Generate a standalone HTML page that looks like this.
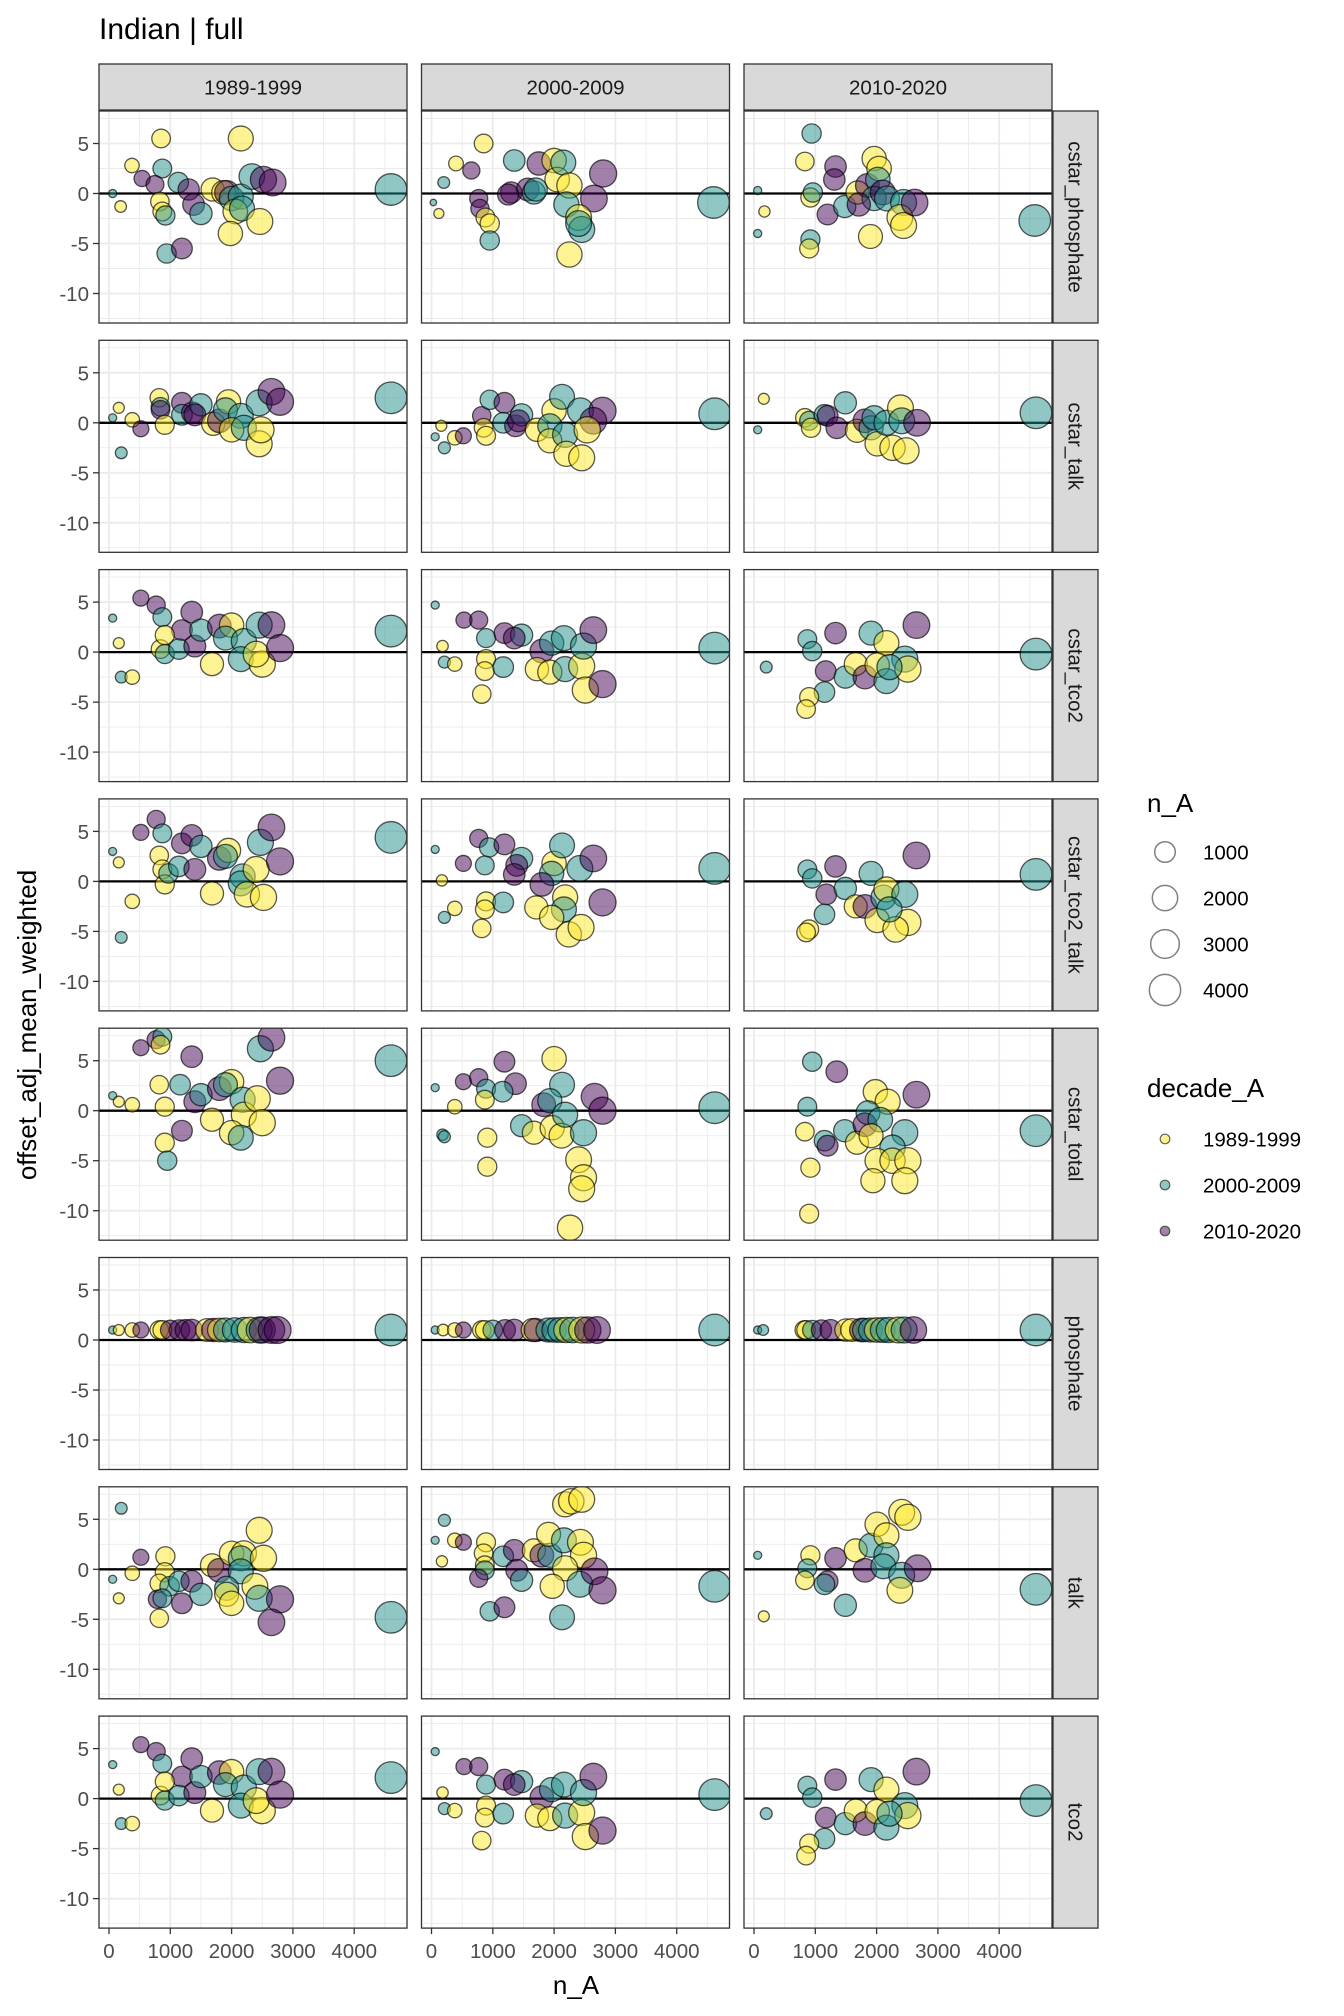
<!DOCTYPE html>
<html><head><meta charset="utf-8"><style>
html,body{margin:0;padding:0;background:#fff}
svg{display:block;font-family:"Liberation Sans",Arial,sans-serif}
</style></head><body>
<svg id="chart" xmlns="http://www.w3.org/2000/svg" width="1344" height="2016" viewBox="0 0 1344 2016">
<text x="99" y="39" font-size="30" fill="#000">Indian | full</text>
<text x="576" y="1994" font-size="26" fill="#000" text-anchor="middle">n_A</text>
<text transform="translate(36,1025) rotate(-90)" font-size="26" fill="#000" text-anchor="middle">offset_adj_mean_weighted</text>
<g id="panels"></g>
<g id="legend"></g>
</svg>
<script>
const rowNames = ["cstar_phosphate","cstar_talk","cstar_tco2","cstar_tco2_talk","cstar_total","phosphate","talk","tco2"];
const colNames = ["1989-1999","2000-2009","2010-2020"];
const decadeColors = ["#FDE725","#21908C","#440154"];
const yTicks = [5,0,-5,-10];
const xTicks = [0,1000,2000,3000,4000];
const sizeBreaks = [1000,2000,3000,4000];

// each point: [n_A, offset, decadeIndex]
const cstar_phosphate_1 = [[850,5.5,0],[2150,5.5,0],[375,2.8,0],[540,1.5,2],[870,2.5,1],[750,0.9,2],[60,0,1],[190,-1.3,0],[830,-0.8,0],[870,-1.8,0],[920,-2.2,1],[1130,1.1,1],[1300,0.4,2],[1380,-1.1,2],[1500,-2,1],[1690,0.4,0],[1870,0.1,0],[1920,0.1,2],[2000,-0.5,1],[2150,-0.3,1],[2060,-1.8,0],[2170,-1.5,1],[1980,-4,0],[2460,-2.8,0],[2330,1.7,1],[2520,1.4,2],[2670,1.1,2],[940,-6,1],[1190,-5.5,2],[4600,0.4,1]];
const cstar_phosphate_2 = [[850,5,0],[1350,3.3,1],[400,3,0],[650,2.3,2],[200,1.1,1],[30,-0.9,1],[120,-2,0],[770,-0.5,2],[790,-1.5,2],[880,-2.4,0],[950,-3,0],[950,-4.7,1],[1300,0.1,2],[1750,3,2],[2000,3.3,0],[2050,1.4,0],[2150,3.1,1],[1570,0.4,2],[1250,-0.1,2],[1670,0.1,1],[2250,0.8,0],[2800,2,2],[2650,-0.5,2],[2200,-1.1,1],[2400,-2.4,0],[2450,-3.6,1],[2250,-6.1,0],[2400,-3,1],[4600,-0.9,1],[1700,0.4,1]];
const cstar_phosphate_3 = [[940,6,1],[830,3.2,0],[1330,2.7,2],[60,0.3,1],[170,-1.8,0],[60,-4,1],[920,-4.6,1],[900,-5.5,0],[920,-0.4,0],[960,0.1,1],[1310,1.4,2],[1200,-2.1,2],[1480,-1.3,1],[1690,0.1,0],[1850,0.8,2],[1960,3.5,0],[2040,2.5,0],[2020,1.4,1],[1960,-0.5,1],[1900,-4.3,0],[2100,0.1,2],[2170,-0.5,1],[2440,-0.9,1],[2380,-2.4,0],[2440,-3.2,0],[2620,-0.9,2],[4580,-2.7,1],[1710,-1.1,2]];
const cstar_talk_1 = [[60,0.5,1],[160,1.5,0],[380,0.3,0],[520,-0.6,2],[200,-3,1],[820,2.5,0],[840,1.6,1],[840,1.3,2],[910,-0.2,0],[1190,2,2],[1190,0.8,1],[1360,1,2],[1500,1.8,1],[1400,0.8,2],[1700,-0.1,0],[1800,0.2,2],[1950,2.1,0],[1900,1.3,1],[2150,0.7,1],[2000,-0.7,0],[2200,-0.5,1],[2450,-2.1,0],[2480,-0.7,0],[2450,2,1],[2650,3.1,2],[2790,2.1,2],[4600,2.5,1]];
const cstar_talk_2 = [[60,-1.4,1],[160,-0.3,0],[210,-2.5,1],[380,-1.5,0],[520,-1.3,2],[820,0.7,2],[850,-0.5,0],[890,-1.3,0],[950,2.3,1],[1190,2,2],[1170,0,1],[1370,-0.3,2],[1470,0.8,1],[1420,0.2,2],[1720,-0.7,0],[2000,1.2,0],[2130,2.6,1],[1930,-0.3,1],[1930,-1.8,0],[2180,-1.2,1],[2200,-3.1,0],[2450,-3.5,0],[2430,1.2,1],[2790,1.2,2],[2640,0.2,2],[2540,-0.7,0],[4620,0.9,1]];
const cstar_talk_3 = [[160,2.4,0],[60,-0.7,1],[830,0.5,0],[900,0.2,1],[930,-0.5,0],[1150,0.8,1],[1200,0.7,2],[1350,-0.5,2],[1490,2,1],[1680,-0.8,0],[1810,0.2,2],[1910,-0.5,1],[2010,-2.1,0],[1960,0.5,1],[2160,0,1],[2390,1.5,0],[2410,0.2,1],[2260,-2.5,0],[2480,-2.8,0],[2660,0,2],[4600,1,1]];
const cstar_tco2_1 = [[60,3.4,1],[160,0.9,0],[200,-2.5,1],[380,-2.5,0],[520,5.4,2],[770,4.7,2],[870,3.5,1],[1350,4,2],[1190,2.2,2],[840,0.3,0],[910,1.7,0],[910,-0.2,1],[1140,0.3,1],[1400,0.6,2],[1500,2.2,1],[1680,-1.2,0],[1800,2.6,2],[2000,2.7,0],[1900,1.4,1],[2200,1.1,1],[2150,-0.7,1],[2500,-1.2,0],[2400,-0.2,0],[2450,2.7,1],[2650,2.7,2],[2790,0.4,2],[4600,2.1,1]];
const cstar_tco2_2 = [[60,4.7,1],[180,0.6,0],[210,-1,1],[380,-1.2,0],[530,3.2,2],[770,3.2,2],[890,1.4,1],[890,-0.7,0],[870,-1.9,0],[820,-4.2,0],[1170,-1.5,1],[1190,1.9,2],[1470,1.7,1],[1350,1.4,2],[1800,0.1,2],[1720,-1.7,0],[1930,-2,0],[1960,0.9,1],[2160,1.4,1],[2180,-1.7,1],[2450,-1.4,0],[2510,-3.8,0],[2480,0.6,1],[2640,2.2,2],[2790,-3.2,2],[4620,0.4,1]];
const cstar_tco2_3 = [[200,-1.5,1],[870,1.3,1],[950,0.1,1],[1330,1.9,2],[1170,-1.9,2],[1150,-4,1],[900,-4.5,0],[850,-5.7,0],[1490,-2.5,1],[1910,1.9,1],[2160,0.9,0],[1660,-1.2,0],[1810,-2.5,2],[2010,-1.3,0],[2160,-2.9,1],[2460,-0.7,1],[2510,-1.7,0],[2210,-1.5,1],[2650,2.7,2],[4600,-0.2,1]];
const cstar_tco2_talk_1 = [[60,3,1],[160,1.9,0],[380,-2,0],[200,-5.6,1],[520,4.9,2],[770,6.2,2],[870,4.8,1],[820,2.6,0],[870,1.2,0],[910,-0.3,0],[970,0.8,1],[1140,1.5,1],[1190,3.8,2],[1350,4.6,2],[1500,3.5,1],[1400,1.2,2],[1680,-1.2,0],[1800,2.3,2],[1950,3.1,0],[1900,2.5,1],[2180,0.5,1],[2150,-0.2,1],[2250,-1.3,0],[2520,-1.6,0],[2400,1.2,0],[2470,3.9,1],[2650,5.4,2],[2790,2,2],[4600,4.4,1]];
const cstar_tco2_talk_2 = [[60,3.2,1],[170,0.1,0],[210,-3.6,1],[380,-2.7,0],[520,1.8,2],[770,4.3,2],[940,3.4,1],[870,1.6,1],[1190,3.7,2],[890,-2,0],[870,-2.8,0],[820,-4.7,0],[1170,-2.1,1],[1470,2.3,1],[1390,1.6,2],[1350,0.7,2],[2000,1.8,0],[1960,0.8,1],[1800,-0.3,2],[1710,-2.6,0],[2180,-1.6,0],[2160,-2.8,1],[2130,3.6,1],[1960,-3.6,0],[2240,-5.3,0],[2440,-4.6,0],[2420,1.3,1],[2640,2.3,2],[2790,-2.1,2],[4620,1.3,1]];
const cstar_tco2_talk_3 = [[870,1.2,1],[950,0.3,1],[1330,1.5,2],[1180,-1.3,2],[1150,-3.3,1],[900,-4.8,0],[850,-5.1,0],[1490,-0.7,1],[1910,0.8,1],[1660,-2.5,0],[1810,-2.5,2],[2010,-3.9,0],[2110,-1.6,1],[2160,-0.8,0],[2460,-1.3,1],[2510,-4.1,0],[2310,-4.8,0],[2210,-2.8,1],[2650,2.6,2],[4600,0.7,1]];
const cstar_total_1 = [[520,6.3,2],[770,7.1,2],[870,7.4,1],[840,6.6,0],[60,1.5,1],[160,0.9,0],[380,0.6,0],[820,2.6,0],[910,0.4,0],[1160,2.6,1],[1350,5.4,2],[1190,-2,2],[910,-3.2,0],[950,-5,1],[1400,0.9,2],[1500,1.6,1],[1680,-0.9,0],[1800,2.2,2],[2000,2.9,0],[1900,2.6,1],[2180,1.1,1],[2200,-0.4,0],[2000,-2.2,0],[2150,-2.7,1],[2420,1.2,0],[2500,-1.2,0],[2470,6.2,1],[2650,7.3,2],[2790,3,2],[4600,5,1]];
const cstar_total_2 = [[60,2.3,1],[380,0.4,0],[180,-2.4,1],[210,-2.6,1],[520,2.9,2],[770,3.3,2],[890,2.2,1],[870,1.1,0],[1190,4.9,2],[1370,2.7,2],[1160,1.9,1],[910,-2.7,0],[910,-5.6,0],[2000,5.2,0],[2130,2.6,1],[1830,0.6,2],[1930,1,1],[1470,-1.5,1],[1670,-2.2,0],[1970,-1.7,0],[2120,-2.5,0],[2180,-0.4,1],[2480,-2.2,1],[2400,-4.9,0],[2480,-6.7,0],[2450,-7.8,0],[2260,-11.7,0],[2660,1.4,2],[2790,0,2],[4620,0.3,1]];
const cstar_total_3 = [[950,4.9,1],[1350,3.9,2],[870,0.4,1],[830,-2.1,0],[920,-5.7,0],[900,-10.3,0],[1150,-3,1],[1200,-3.5,2],[1480,-2,1],[1680,-3.2,0],[1980,1.9,0],[2180,0.9,0],[1860,-0.2,1],[1810,-1.4,2],[2060,-0.9,1],[1910,-2.5,0],[2460,-2.2,1],[2260,-3.7,1],[2010,-5,0],[1940,-7,0],[2260,-5,0],[2510,-5,0],[2460,-7,0],[2650,1.6,2],[4600,-2,1]];
const phosphate_1 = [[60,1,1],[160,1,0],[380,1,0],[520,1,2],[820,1,0],[870,1,0],[1000,1,2],[1150,1,2],[1250,1,2],[1350,1,2],[1600,1,0],[1700,1,2],[1800,1,0],[1900,1,1],[2050,1,1],[2200,1,1],[2300,1,0],[2450,1,1],[2500,1,2],[2650,1,2],[2750,1,2],[4600,1,1]];
const phosphate_2 = [[60,1,1],[190,1,0],[380,1,0],[520,1,2],[820,1,0],[870,1,0],[1000,1,1],[1200,1,2],[1350,1,2],[1650,1,0],[1700,1,2],[1900,1,1],[2000,1,1],[2100,1,1],[2200,1,0],[2300,1,1],[2450,1,0],[2550,1,2],[2700,1,2],[4620,1,1]];
const phosphate_3 = [[60,1,1],[150,1,1],[820,1,0],[850,1,0],[950,1,1],[1100,1,2],[1250,1,2],[1500,1,0],[1600,1,0],[1750,1,2],[1800,1,1],[1900,1,1],[2000,1,0],[2100,1,1],[2200,1,1],[2350,1,0],[2450,1,1],[2600,1,2],[4600,1,1]];
const talk_1 = [[200,6.1,1],[520,1.2,2],[920,1.3,0],[380,-0.4,0],[60,-1,1],[160,-2.9,0],[910,-0.3,0],[820,-1.4,0],[990,-1.7,1],[790,-3,2],[820,-4.9,0],[870,-2.9,1],[1140,-1.2,1],[1350,-1.2,2],[1190,-3.4,2],[1500,-2.5,1],[1680,0.4,0],[1800,-0.1,2],[2000,1.6,0],[2200,1.6,0],[2150,1.1,1],[2150,-0.2,1],[1920,-1.9,1],[1920,-2.5,0],[2000,-3.4,0],[2450,3.9,0],[2520,1.1,0],[2380,-1.7,0],[2450,-2.9,1],[2790,-3,2],[2650,-5.3,2],[4600,-4.8,1]];
const talk_2 = [[60,2.9,1],[210,4.9,1],[170,0.8,0],[380,2.9,0],[520,2.7,2],[890,2.7,0],[850,1.6,0],[870,0.4,0],[870,-0.1,1],[770,-0.9,2],[1170,1.3,1],[1350,1.9,2],[1390,-0.1,2],[1470,-1.1,1],[1670,1.9,0],[1800,1.4,2],[1930,1.4,1],[1910,3.5,0],[2160,2.9,1],[2430,2.7,0],[2480,1.4,0],[2180,0.1,0],[1970,-1.7,0],[2420,-1.5,1],[2660,-0.2,2],[2790,-2.1,2],[950,-4.2,1],[1190,-3.8,2],[2130,-4.8,1],[2180,6.5,0],[2280,6.8,0],[2450,7,0],[4620,-1.7,1]];
const talk_3 = [[60,1.4,1],[160,-4.7,0],[920,1.4,0],[870,0.1,1],[830,-1.1,0],[1200,-1.2,2],[1150,-1.5,1],[1490,-3.6,1],[1330,1.1,2],[1660,1.9,0],[1910,2.4,1],[2010,4.5,0],[2160,3.4,0],[2410,5.7,0],[2510,5.2,0],[2160,1.4,1],[1810,-0.1,2],[2110,0.3,1],[2410,-0.6,1],[2380,-2.1,0],[2670,0.1,2],[4600,-2,1]];
const tco2_1 = [[60,3.4,1],[160,0.9,0],[200,-2.5,1],[380,-2.5,0],[520,5.4,2],[770,4.7,2],[870,3.5,1],[1350,4,2],[1190,2.2,2],[840,0.3,0],[910,1.7,0],[910,-0.2,1],[1140,0.3,1],[1400,0.6,2],[1500,2.2,1],[1680,-1.2,0],[1800,2.6,2],[2000,2.7,0],[1900,1.4,1],[2200,1.1,1],[2150,-0.7,1],[2500,-1.2,0],[2400,-0.2,0],[2450,2.7,1],[2650,2.7,2],[2790,0.4,2],[4600,2.1,1]];
const tco2_2 = [[60,4.7,1],[180,0.6,0],[210,-1,1],[380,-1.2,0],[530,3.2,2],[770,3.2,2],[890,1.4,1],[890,-0.7,0],[870,-1.9,0],[820,-4.2,0],[1170,-1.5,1],[1190,1.9,2],[1470,1.7,1],[1350,1.4,2],[1800,0.1,2],[1720,-1.7,0],[1930,-2,0],[1960,0.9,1],[2160,1.4,1],[2180,-1.7,1],[2450,-1.4,0],[2510,-3.8,0],[2480,0.6,1],[2640,2.2,2],[2790,-3.2,2],[4620,0.4,1]];
const tco2_3 = [[200,-1.5,1],[870,1.3,1],[950,0.1,1],[1330,1.9,2],[1170,-1.9,2],[1150,-4,1],[900,-4.5,0],[850,-5.7,0],[1490,-2.5,1],[1910,1.9,1],[2160,0.9,0],[1660,-1.2,0],[1810,-2.5,2],[2010,-1.3,0],[2160,-2.9,1],[2460,-0.7,1],[2510,-1.7,0],[2210,-1.5,1],[2650,2.7,2],[4600,-0.2,1]];

const panelData = [
 [cstar_phosphate_1,cstar_phosphate_2,cstar_phosphate_3],
 [cstar_talk_1,cstar_talk_2,cstar_talk_3],
 [cstar_tco2_1,cstar_tco2_2,cstar_tco2_3],
 [cstar_tco2_talk_1,cstar_tco2_talk_2,cstar_tco2_talk_3],
 [cstar_total_1,cstar_total_2,cstar_total_3],
 [phosphate_1,phosphate_2,phosphate_3],
 [talk_1,talk_2,talk_3],
 [tco2_1,tco2_2,tco2_3]
];

const NS = "http://www.w3.org/2000/svg";
const colX = [99, 421.5, 744];
const panelW = 308, panelH = 212, rowTop0 = 111, rowStep = 229.3;
const yMax = 8.25;
function xScale(c, n){ return colX[c] + 10 + n * 0.0613; }
function yScale(r, v){ return rowTop0 + r*rowStep + (yMax - v) * 10; }
function rScale(n){ return 1.12 * Math.pow(Math.max(n,1), 0.314); }
function mk(tag, attrs, parent){
  const e = document.createElementNS(NS, tag);
  for (const k in attrs) e.setAttribute(k, attrs[k]);
  parent.appendChild(e);
  return e;
}
const panels = document.getElementById('panels');
const defs = mk('defs', {}, panels);

colNames.forEach((name, c) => {
  const g = mk('g', {}, panels);
  
  
  mk('rect', {x: colX[c], y: 64, width: panelW, height: 46, fill: '#D9D9D9', stroke: '#333', 'stroke-width': 1.3}, g);
  const t = mk('text', {x: colX[c] + panelW/2, y: 94.5, 'font-size': 20.5, 'text-anchor': 'middle', fill: '#1a1a1a'}, g);
  t.textContent = name;
});

rowNames.forEach((rname, r) => {
  const top = rowTop0 + r*rowStep;
  const sg = mk('g', {}, panels);
  
  
  mk('rect', {x: 1053, y: top, width: 45, height: panelH, fill: '#D9D9D9', stroke: '#333', 'stroke-width': 1.3}, sg);
  const st = mk('text', {transform: `translate(1068.5,${top + panelH/2}) rotate(90)`, 'font-size': 20.5, 'text-anchor': 'middle', fill: '#1a1a1a'}, sg);
  st.textContent = rname;

  const yax = mk('g', {}, panels);
  
  
  yTicks.forEach(v => {
    const yy = yScale(r, v);
    mk('line', {x1: 93, x2: 99, y1: yy, y2: yy, stroke: '#333', 'stroke-width': 1.3}, yax);
    const t = mk('text', {x: 89, y: yy + 7.5, 'font-size': 20.5, 'text-anchor': 'end', fill: '#4d4d4d'}, yax);
    t.textContent = v;
  });

  colNames.forEach((cname, c) => {
    const x0 = colX[c];
    const g = mk('g', {}, panels);
    
    
    mk('rect', {x: x0, y: top, width: panelW, height: panelH, fill: '#fff'}, g);
    for (let v = -12.5; v <= 8; v += 5) {
      const yy = yScale(r, v);
      mk('line', {x1: x0, x2: x0+panelW, y1: yy, y2: yy, stroke: '#EBEBEB', 'stroke-width': 0.9}, g);
    }
    for (let n = 500; n <= 4500; n += 1000) {
      const xx = xScale(c, n);
      mk('line', {x1: xx, x2: xx, y1: top, y2: top+panelH, stroke: '#EBEBEB', 'stroke-width': 0.9}, g);
    }
    yTicks.forEach(v => {
      const yy = yScale(r, v);
      mk('line', {x1: x0, x2: x0+panelW, y1: yy, y2: yy, stroke: '#EBEBEB', 'stroke-width': 1.8}, g);
    });
    xTicks.forEach(n => {
      const xx = xScale(c, n);
      mk('line', {x1: xx, x2: xx, y1: top, y2: top+panelH, stroke: '#EBEBEB', 'stroke-width': 1.8}, g);
    });
    const z = yScale(r, 0);
    const zl = mk('line', {x1: x0, x2: x0+panelW, y1: z, y2: z, stroke: '#000', 'stroke-width': 2.3}, g);
    
    
    const cid = 'clip-' + r + '-' + c;
    const cp = mk('clipPath', {id: cid}, defs);
    mk('rect', {x: x0, y: top, width: panelW, height: panelH}, cp);
    const pts = mk('g', {'clip-path': `url(#${cid})`}, g);
    panelData[r][c].forEach(p => {
      const circ = mk('circle', {cx: xScale(c, p[0]), cy: yScale(r, p[1]), r: rScale(p[0]), fill: decadeColors[p[2]], 'fill-opacity': 0.5, stroke: '#000', 'stroke-opacity': 0.65, 'stroke-width': 1.3}, pts);
      
      
    });
    mk('rect', {x: x0, y: top, width: panelW, height: panelH, fill: 'none', stroke: '#333', 'stroke-width': 1.3}, g);

    if (r === rowNames.length - 1) {
      const xax = mk('g', {}, panels);
      
      
      xTicks.forEach(n => {
        const xx = xScale(c, n);
        mk('line', {x1: xx, x2: xx, y1: top+panelH, y2: top+panelH+6, stroke: '#333', 'stroke-width': 1.3}, xax);
        const t = mk('text', {x: xx, y: top+panelH+30, 'font-size': 20.5, 'text-anchor': 'middle', fill: '#4d4d4d'}, xax);
        t.textContent = n;
      });
    }
  });
});

const lg = document.getElementById('legend');
const lt1 = mk('text', {x: 1147, y: 812, 'font-size': 26, fill: '#000'}, lg);
lt1.textContent = 'n_A';


const sizeY = [852, 898, 944, 990];
sizeBreaks.forEach((n, i) => {
  const e = mk('g', {}, lg);
  
  
  mk('circle', {cx: 1165, cy: sizeY[i], r: rScale(n) + 0.5, fill: 'none', stroke: '#808080', 'stroke-width': 1.5}, e);
  const t = mk('text', {x: 1203, y: sizeY[i] + 7.5, 'font-size': 20.5, fill: '#000'}, e);
  t.textContent = n;
});
const lt2 = mk('text', {x: 1147, y: 1097, 'font-size': 26, fill: '#000'}, lg);
lt2.textContent = 'decade_A';


const decY = [1139, 1185, 1231];
colNames.forEach((name, i) => {
  const e = mk('g', {}, lg);
  
  
  mk('circle', {cx: 1165, cy: decY[i], r: 4.8, fill: decadeColors[i], 'fill-opacity': 0.5, stroke: '#000', 'stroke-opacity': 0.6, 'stroke-width': 1.2}, e);
  const t = mk('text', {x: 1203, y: decY[i] + 7.5, 'font-size': 20.5, fill: '#000'}, e);
  t.textContent = name;
});
</script>
</body></html>
